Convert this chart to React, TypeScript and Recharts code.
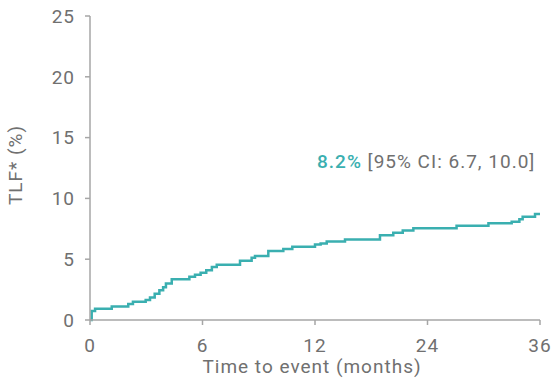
import React from "react";
import { LineChart, Line, XAxis, YAxis } from "recharts";

const months = [0, 0.09, 0.27, 1.16, 2.04, 2.29, 2.97, 3.2, 3.45, 3.7, 3.9, 4.05, 4.36, 5.3, 5.6, 5.9, 6.2, 6.5, 6.76, 8.0, 8.62, 8.8, 9.51, 10.31, 10.79, 12.0, 12.6, 13.25, 15.2, 18.93, 20.35, 21.36, 22.49, 27.1, 30.5, 32.98, 33.8, 34.15, 35.47, 36];
const tlf = [0, 0.74, 0.93, 1.1, 1.32, 1.5, 1.65, 1.85, 2.15, 2.45, 2.7, 3.0, 3.35, 3.56, 3.72, 3.88, 4.1, 4.35, 4.55, 4.88, 5.12, 5.26, 5.67, 5.84, 6.03, 6.2, 6.3, 6.45, 6.63, 6.96, 7.18, 7.37, 7.54, 7.76, 7.95, 8.09, 8.28, 8.5, 8.72, 8.72];
const xTickMonths = [0, 6, 12, 24, 36];
const yTicks = [0, 5, 10, 15, 20, 25];
const xTitle = "Time to event (months)";
const yTitle = "TLF* (%)";
const estimate = "8.2%";
const ciText = " [95% CI: 6.7, 10.0]";

// Piecewise axis: each tick interval (0-6, 6-12, 12-24, 24-36) gets equal width
const toPos = (t: number) => {
  for (let i = 0; i < xTickMonths.length - 1; i++) {
    const a = xTickMonths[i];
    const b = xTickMonths[i + 1];
    if (t <= b) return i + (t - a) / (b - a);
  }
  return xTickMonths.length - 1;
};

const data = months.map((m, i) => ({ pos: toPos(m), v: tlf[i] }));
const TEAL = "#3aafb0";
const GREY = "#707070";
const AXIS = "#a6a6a6";
const FONT = "Roboto, sans-serif";
const FS = 19;
const LS = 1;

export default function App() {
  const tickStyle = { fill: GREY, fontSize: FS, fontFamily: FONT, letterSpacing: LS };
  return (
    <div style={{ position: "absolute", left: 0, top: 0, width: 552, height: 378, background: "#fff" }}>
      <LineChart width={552} height={378} data={data} margin={{ top: 16, right: 12, left: 0, bottom: 0 }}>
        <XAxis
          dataKey="pos"
          type="number"
          domain={[0, 4]}
          ticks={[0, 1, 2, 3, 4]}
          tickFormatter={(p: number) => String(xTickMonths[p])}
          height={58}
          stroke={AXIS}
          strokeWidth={1.5}
          tickSize={5}
          tickMargin={14}
          tick={tickStyle}
        />
        <YAxis
          type="number"
          domain={[0, 25]}
          ticks={yTicks}
          width={90}
          stroke={AXIS}
          strokeWidth={1.5}
          tickSize={5}
          tickMargin={10}
          tick={tickStyle}
        />
        <Line dataKey="v" type="stepAfter" stroke={TEAL} strokeWidth={2.5} dot={false} isAnimationActive={false} />
      </LineChart>
      <svg width={552} height={378} style={{ position: "absolute", left: 0, top: 0, pointerEvents: "none" }}>
        <g fontFamily={FONT} fontSize={FS} letterSpacing={LS} fill={GREY}>
          <text x={312} y={373} textAnchor="middle">{xTitle}</text>
          <text x={0} y={0} textAnchor="middle" transform="translate(22,165) rotate(-90)">{yTitle}</text>
          <text x={317} y={168}>
            <tspan fill={TEAL} fontWeight={500}>{estimate}</tspan>
            <tspan>{ciText}</tspan>
          </text>
        </g>
      </svg>
    </div>
  );
}
